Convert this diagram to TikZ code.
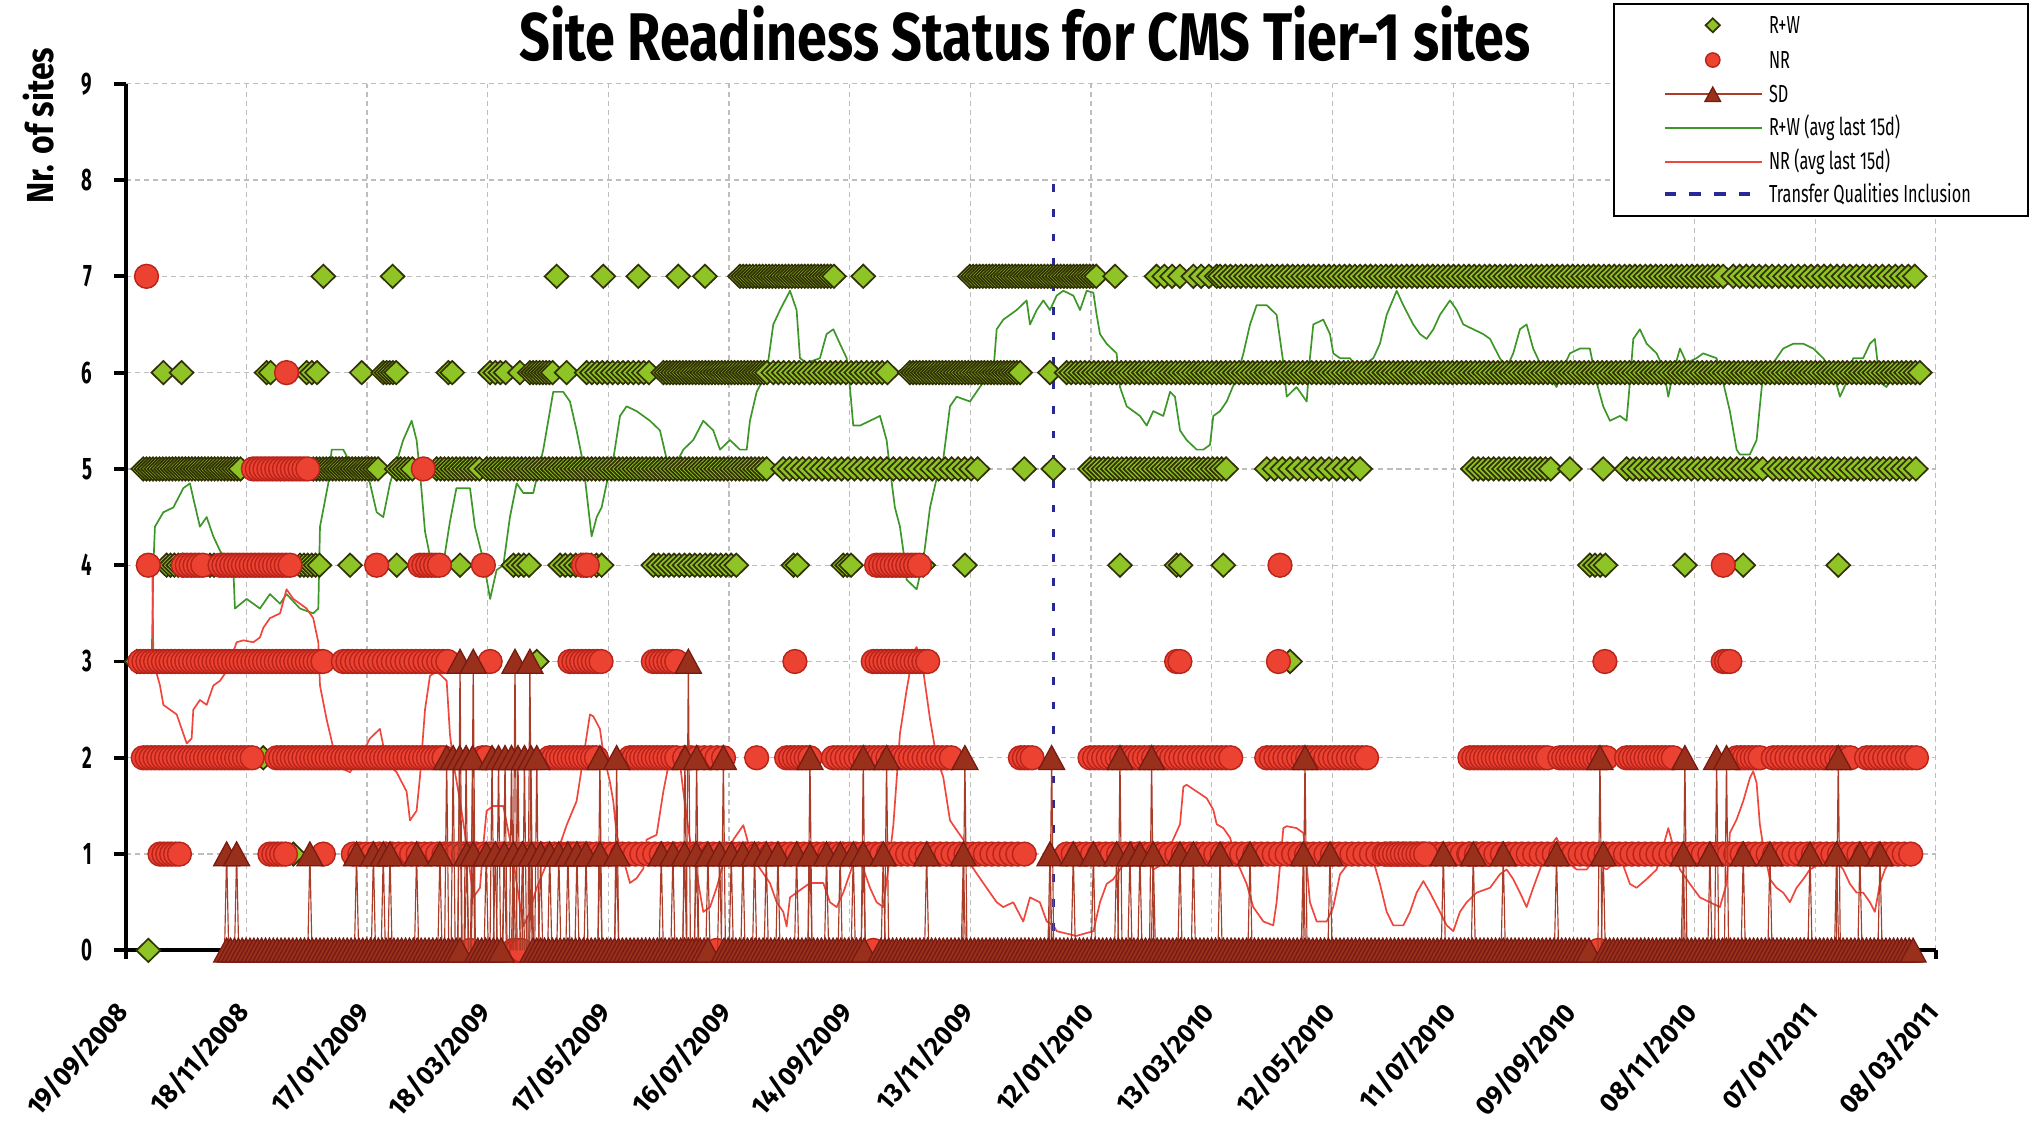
\documentclass[tikz,border=0pt]{standalone}
\usepackage{fontspec}
\setmainfont{Fira Sans}
\newfontfamily\titlefont[FakeStretch=0.8]{Fira Sans}
\newfontfamily\axisfont[FakeStretch=0.85]{Fira Sans}
\newfontfamily\tickfont[FakeStretch=0.6]{Fira Sans}
\newfontfamily\datefont[FakeStretch=0.97]{Fira Sans}
\newfontfamily\legfont[FakeStretch=0.66]{Fira Sans}

\definecolor{rwgreen}{RGB}{142,196,38}
\definecolor{rwedge}{RGB}{50,48,5}
\definecolor{nrred}{RGB}{236,66,50}
\definecolor{nredge}{RGB}{185,35,25}
\definecolor{sdfill}{RGB}{153,48,28}
\definecolor{sdedge}{RGB}{118,26,18}
\definecolor{sdstem}{RGB}{170,60,40}
\definecolor{avggreen}{RGB}{60,150,40}
\definecolor{avgred}{RGB}{240,70,60}
\definecolor{tqblue}{RGB}{40,40,150}
\definecolor{gridgray}{RGB}{190,190,190}

\tikzset{
  gridline/.style={draw=gridgray, line width=0.5pt, dash pattern=on 2pt off 1.5pt},
  axisline/.style={draw=black, line width=1.5pt},
  rwmark/.style={fill=rwgreen, draw=rwedge, line width=0.65pt, line join=miter},
  nrmark/.style={fill=nrred, draw=nredge, line width=0.55pt},
  sdmark/.style={fill=sdfill, draw=sdedge, line width=0.5pt},
  sdline/.style={draw=sdstem, line width=0.45pt},
  rwavg/.style={draw=avggreen, line width=0.65pt, line join=round},
  nravg/.style={draw=avgred, line width=0.65pt, line join=round},
  tqline/.style={draw=tqblue, line width=1pt, dash pattern=on 3pt off 6.5pt},
  ticklabel/.style={font=\tickfont\bfseries\fontsize{12}{12}\selectfont, inner sep=0pt, anchor=east},
  datelabel/.style={font=\datefont\bfseries\fontsize{10.3}{10.3}\selectfont, inner sep=0pt, rotate=49, anchor=north east},
  legtext/.style={font=\legfont\fontsize{9.5}{9.5}\selectfont, inner sep=0pt, anchor=west},
  rwpt/.pic={\path[rwmark] (-4.6pt,0pt) -- (0pt,4.5pt) -- (4.6pt,0pt) -- (0pt,-4.5pt) -- cycle;},
  nrpt/.pic={\path[nrmark] (0pt,0pt) circle (4.6pt);},
  sdpt/.pic={\path[sdmark] (-5pt,-4.5pt) -- (0pt,4.7pt) -- (5pt,-4.5pt) -- cycle;}
}

% one run of markers on a row: pic, row, from, to, step
\newcommand{\markrun}[5]{%
  \pgfmathtruncatemacro{\nmk}{(#4-#3)/#5}%
  \foreach \k in {0,...,\nmk}{%
    \pgfmathsetmacro{\xr}{#3+\k*#5}%
    \pic at (\xr,#2) {#1};%
  }%
}

\begin{document}
\begin{tikzpicture}[x=0.5pt, y=-0.5pt]
\fill[white] (0,0) rectangle (1568,874);
\useasboundingbox (0,0) rectangle (1568,874);

% title
\node[font=\titlefont\bfseries\fontsize{26}{26}\selectfont] (title) at (790.5,26) {Site Readiness Status for CMS Tier-1 sites};
\node[font=\axisfont\bfseries\fontsize{14.5}{14.5}\selectfont, rotate=90] (ytitle) at (30,97) {Nr. of sites};

\begin{scope}[shift={(0,733)}, y=37.135pt]
  % grid
  \foreach \i in {1,...,15} \draw[gridline] ({97+\i*93.07},0) -- ({97+\i*93.07},9);
  \foreach \v in {1,...,9} \draw[gridline] (97,\v) -- (1493.05,\v);
  % axes
  \draw[axisline] (97,9) -- (97,0) -- (1493.05,0);
  \foreach \v in {0,...,9} \draw[axisline] (97,\v) -- +(-4.6pt,0pt);
  \foreach \i in {0,...,15} \draw[axisline] ({97+\i*93.07},0) -- +(0pt,-3.5pt);
  \foreach \v in {0,...,9} \node[ticklabel] (ylab\v) at (71.5,\v) {\v};
  \foreach \d [count=\i from 0] in {19/09/2008,18/11/2008,17/01/2009,18/03/2009,17/05/2009,16/07/2009,14/09/2009,13/11/2009,12/01/2010,13/03/2010,12/05/2010,11/07/2010,09/09/2010,08/11/2010,07/01/2011,08/03/2011}
    \node[datelabel] (xlab\i) at ({97+\i*93.07-9.6},-0.5) {\d};

  % averages over the last 15 days
  \draw[rwavg] plot coordinates {(117,3.0) (118.3,4.0) (119.5,4.4) (126,4.55) (133.7,4.6) (141.4,4.8) (146.5,4.85) (149,4.7) (154.2,4.4) (159.4,4.5) (164.5,4.3) (169.7,4.15) (180,3.95) (181.2,3.55) (190.2,3.65) (200.5,3.55) (208.2,3.7) (216,3.6) (221,3.7) (231.4,3.55) (241.6,3.5) (245.5,3.55) (246.8,4.4) (253.2,4.85) (255.8,5.2) (264.8,5.2) (272.5,5.0) (282.8,5.0) (290.5,4.55) (295.6,4.5) (300.8,4.85) (311,5.3) (317.5,5.5) (321.3,5.3) (324,4.95) (327.8,4.35) (333,4.0) (340.6,3.9) (347,4.45) (352,4.8) (362.5,4.8) (366.3,4.4) (372.8,4.05) (378,3.65) (383,3.95) (388.2,4.0) (393.3,4.5) (398.5,4.85) (403.6,4.75) (411.3,4.75) (419,5.2) (426.7,5.8) (434.4,5.8) (439.6,5.7) (444.7,5.4) (449.9,5.05) (453.7,4.6) (456.3,4.3) (460.2,4.5) (464,4.6) (467.9,4.85) (473,5.1) (478.2,5.55) (483.3,5.65) (491,5.6) (501.3,5.5) (509,5.4) (514.2,5.1) (519.3,5.0) (527,5.2) (534.7,5.3) (542.4,5.5) (550.1,5.4) (555.3,5.2) (563,5.3) (570.7,5.2) (575.9,5.2) (578.4,5.5) (583.6,5.8) (591.3,6.0) (596.4,6.5) (601.6,6.65) (609.3,6.85) (614.4,6.65) (617,6.15) (622.1,6.1) (632.4,6.15) (637.5,6.4) (642.7,6.45) (647.8,6.3) (653,6.15) (655.5,5.85) (658.1,5.45) (663.3,5.45) (671,5.5) (678.7,5.55) (683.8,5.3) (686.4,5.0) (690.2,4.6) (694.1,4.4) (696.7,4.15) (699.2,3.85) (707,3.75) (712.1,4.05) (717.3,4.6) (722.4,4.9) (727.5,5.1) (732.7,5.65) (737.8,5.75) (748.1,5.7) (753.2,5.8) (758.4,5.9) (766.1,6.0) (768.7,6.45) (773.8,6.55) (784.1,6.65) (791.8,6.75) (794.4,6.5) (799.6,6.65) (804.7,6.75) (809.8,6.65) (815,6.8) (820.1,6.85) (827.8,6.8) (833,6.65) (838.1,6.85) (843.3,6.83) (845.8,6.6) (848.4,6.4) (853.5,6.3) (861.2,6.2) (863.8,5.85) (869,5.65) (879.2,5.55) (884.4,5.45) (889.5,5.6) (897.2,5.55) (902.4,5.8) (906.2,5.75) (910.1,5.4) (915.2,5.3) (923,5.2) (928.1,5.2) (933.2,5.25) (935.8,5.55) (941,5.6) (946.1,5.7) (953.8,5.95) (959,6.2) (964.1,6.5) (969.2,6.7) (977,6.7) (984.6,6.6) (987.2,6.35) (989.8,6.1) (992.4,5.75) (1000,5.85) (1007.8,5.7) (1010.3,6.15) (1012.9,6.5) (1020.6,6.55) (1025.8,6.4) (1028.3,6.2) (1033.5,6.15) (1041.2,6.15) (1046.3,6.05) (1054,6.1) (1059.2,6.15) (1064.3,6.3) (1069.5,6.6) (1077.2,6.85) (1082.3,6.7) (1090,6.5) (1095.2,6.4) (1100.3,6.35) (1105.5,6.45) (1110.6,6.6) (1118.3,6.75) (1123.5,6.65) (1128.6,6.5) (1136.3,6.45) (1144,6.4) (1149.2,6.35) (1156.8,6.15) (1162,6.05) (1167.1,6.2) (1172.3,6.45) (1177.4,6.5) (1182.5,6.25) (1187.7,6.1) (1192.8,6.0) (1200.5,5.85) (1205.7,6.05) (1210.8,6.2) (1218.5,6.25) (1226.2,6.25) (1231.4,5.9) (1236.5,5.65) (1241.7,5.5) (1249.4,5.55) (1254.5,5.5) (1257.1,5.9) (1259.7,6.35) (1264.8,6.45) (1270,6.3) (1277.7,6.2) (1282.8,6.05) (1286.7,5.75) (1290.5,6.0) (1295.7,6.25) (1300.8,6.1) (1308.5,6.15) (1313.6,6.2) (1323.9,6.15) (1329,5.9) (1334.2,5.6) (1339.4,5.2) (1341.9,5.15) (1349.6,5.15) (1354.8,5.3) (1357.3,5.65) (1359.9,6.0) (1365.1,6.05) (1375.3,6.25) (1383.1,6.3) (1390.8,6.3) (1398.5,6.25) (1406.2,6.15) (1414,6.0) (1419.1,5.75) (1424.2,5.9) (1429.3,6.15) (1437,6.15) (1442.2,6.3) (1446,6.35) (1449.9,5.9) (1455,5.85) (1460.2,6.0) (1467.9,6.05) (1475.6,6.05)};
  \draw[nravg] plot coordinates {(117.5,3.95) (118.3,3.0) (123.4,2.75) (126,2.55) (131.1,2.5) (136.3,2.45) (141.4,2.25) (144,2.15) (147.8,2.2) (149.1,2.5) (154.2,2.6) (159.4,2.55) (164.5,2.75) (169.7,2.8) (174.8,2.9) (182.5,3.2) (187.7,3.22) (195.4,3.2) (200.5,3.25) (203.1,3.35) (208.2,3.45) (216,3.5) (221,3.75) (226.2,3.65) (231.4,3.6) (236.5,3.55) (241.6,3.45) (245.5,3.2) (246.8,2.75) (251.9,2.4) (257.1,2.1) (262.2,1.9) (269.9,1.85) (277.6,2.0) (285.3,2.2) (293,2.3) (298.2,1.95) (305.9,1.85) (313.6,1.65) (316.2,1.35) (321.3,1.45) (323.9,1.8) (327.8,2.5) (331.6,2.85) (336.8,2.9) (344.5,2.8) (347,2.25) (349.6,1.95) (354.8,1.55) (359.9,1.1) (365,0.55) (370.2,0.65) (372.8,1.1) (375.3,1.45) (380.5,1.5) (388.2,1.5) (393.3,1.15) (398.5,0.7) (403.6,0.25) (408.7,0.4) (413.9,0.65) (421.6,0.9) (431.9,1.1) (437,1.3) (444.7,1.55) (449.9,2.0) (455,2.45) (457.6,2.43) (462.7,2.3) (465.3,2.05) (470.4,1.75) (473,1.55) (475.6,1.2) (480.7,0.95) (485.9,0.7) (491,0.75) (496.2,0.85) (498.7,1.15) (506.4,1.2) (511.6,1.65) (516.7,2.0) (519.3,2.1) (524.4,1.95) (527,1.65) (532.1,1.15) (537.3,0.8) (542.4,0.4) (547.6,0.45) (552.7,0.65) (557.9,0.9) (560.4,1.0) (565.6,1.15) (570.7,1.25) (573.3,1.3) (578.4,1.05) (583.6,0.9) (588.7,0.8) (593.8,0.7) (599,0.5) (604.1,0.4) (606.7,0.25) (609.3,0.55) (614.4,0.6) (619.5,0.65) (624.7,0.7) (635,0.7) (640.1,0.5) (645.3,0.45) (650.4,0.6) (655.5,0.8) (660.7,1.0) (665.8,0.85) (671,0.65) (676.1,0.5) (681.2,0.45) (685.1,0.85) (689,1.3) (694.1,2.25) (699.2,2.7) (704.4,3.1) (707,3.15) (712.1,2.9) (717.3,2.4) (722.4,2.0) (727.5,1.8) (732.7,1.35) (737.8,1.25) (743,1.15) (748.1,0.9) (753.2,0.8) (760.9,0.65) (768.7,0.5) (773.8,0.45) (781.5,0.5) (789.2,0.3) (794.4,0.55) (802,0.5) (807.3,0.3) (812.4,0.26) (815,0.2) (830,0.15) (843.3,0.2) (848.4,0.5) (853.5,0.69) (858.7,0.74) (863.8,0.84) (871.5,0.98) (876.7,1.08) (884.4,0.98) (889.5,0.84) (894.7,0.88) (902.4,1.08) (910.1,1.31) (912.7,1.7) (915.2,1.72) (923,1.65) (930.7,1.58) (935.8,1.46) (938.4,1.31) (943.5,1.27) (948.7,1.17) (953.8,0.93) (961.5,0.69) (966.6,0.45) (974.4,0.3) (982,0.26) (984.6,0.5) (987.2,0.88) (989.8,1.27) (992.4,1.29) (1000,1.27) (1005.2,1.22) (1007.8,0.88) (1010.3,0.5) (1015.5,0.3) (1023.2,0.3) (1028.3,0.45) (1033.5,0.79) (1038.6,0.88) (1043.8,0.93) (1051.5,0.98) (1059.2,0.93) (1064.3,0.69) (1069.5,0.4) (1074.6,0.26) (1082.3,0.26) (1087.5,0.4) (1092.6,0.6) (1097.8,0.72) (1102.9,0.6) (1110.6,0.4) (1115.8,0.26) (1120.9,0.2) (1126,0.4) (1131.2,0.5) (1138.9,0.6) (1149.2,0.65) (1156.8,0.79) (1162,0.84) (1167.1,0.74) (1172.3,0.6) (1177.4,0.45) (1182.5,0.65) (1187.7,0.84) (1192.8,1.03) (1200.5,1.17) (1208.2,0.93) (1216,0.84) (1223.7,0.84) (1228.8,0.93) (1234,0.88) (1239.1,0.84) (1246.8,0.93) (1252,0.88) (1257.1,0.69) (1262.2,0.65) (1270,0.74) (1277.7,0.84) (1282.8,1.08) (1286.7,1.27) (1290.5,1.08) (1295.7,0.84) (1303.4,0.69) (1311.1,0.55) (1318.8,0.5) (1326.5,0.45) (1331.6,0.69) (1334.2,1.22) (1339.4,1.36) (1344.5,1.55) (1349.6,1.79) (1352.2,1.86) (1354.8,1.74) (1357.3,1.31) (1359.9,1.08) (1365.1,0.74) (1370.2,0.65) (1375.3,0.6) (1380.5,0.5) (1385.6,0.65) (1390.8,0.74) (1395.9,0.84) (1401.1,0.88) (1406.2,0.98) (1411.3,0.98) (1416.5,0.93) (1421.6,0.84) (1426.8,0.69) (1431.9,0.6) (1437,0.6) (1442.2,0.5) (1446,0.4) (1449.9,0.69) (1453.8,0.84) (1457.6,0.93) (1462.8,0.98)};

  % transfer qualities inclusion
  \draw[tqline] (812.3,0.2) -- (812.3,8);

  % R+W
  \foreach \rw/\ra/\rb/\st in {7/249.4/249.4/1, 7/302.8/302.8/1, 7/429.3/429.3/1, 7/465.3/465.3/1, 7/492.3/492.3/1, 7/523.1/523.1/1, 7/543.7/543.7/1, 7/570.7/645.3/2.5, 7/665.8/665.8/1, 7/748/845.8/2.5, 7/860/860/1, 7/892/915.2/6, 7/920.4/938.4/6, 7/941/1329/4, 7/1336.8/1478.2/5,
      6/126/126/1, 6/140/140/1, 6/205.7/209.5/3, 6/236.5/246.8/4, 6/279/279/1, 6/295.6/306/2.5, 6/345.8/349.6/3, 6/378/393.3/4, 6/401/401/1, 6/408.7/426.7/2.5, 6/437/437/1, 6/452.5/503.9/4, 6/511.6/593.8/2.5, 6/596.4/686.4/4, 6/701.8/789.2/2.5, 6/809.8/809.8/1, 6/822.7/1480.7/3.5,
      5/110.5/187.7/2.5, 5/241.6/293/2.5, 5/306/318.8/3, 5/336.8/370/3, 5/375.3/593.8/3, 5/604/758.4/5, 5/790/790/1, 5/812.4/812.4/1, 5/840.7/948.7/3.5, 5/977/1054/6, 5/1136/1198/4, 5/1210.8/1210.8/1, 5/1236.5/1236.5/1, 5/1254.5/1362.5/5, 5/1367.6/1480.7/5,
      4/128.5/141.4/3, 4/162/167/3, 4/231.4/246.8/3, 4/270/270/1, 4/306/306/1, 4/354.8/354.8/1, 4/396/408.7/4, 4/432/465/4, 4/503.9/568.1/4, 4/612/616/3, 4/650.4/658/3, 4/712/712/1, 4/744.2/744.2/1, 4/863.8/863.8/1, 4/907.5/912.7/3, 4/943.5/943.5/1, 4/1226.2/1241.7/4, 4/1299.5/1299.5/1, 4/1344.5/1344.5/1, 4/1417.8/1417.8/1,
      3/105.4/105.4/1, 3/414/414/1, 3/995/995/1, 2/203/205.7/3, 1/226.2/226.2/1, 0/114.4/114.4/1}
    {\markrun{rwpt}{\rw}{\ra}{\rb}{\st}}

  % NR
  \foreach \rw/\ra/\rb/\st in {7/113/113/1, 6/221/221/1, 5/195.4/239/3, 5/326.5/326.5/1,
      4/114.4/114.4/1, 4/141.4/156.8/3, 4/169.7/226/3, 4/290.5/290.5/1, 4/323.9/339.3/3, 4/372.8/372.8/1, 4/450/455/3, 4/676.1/709.5/3, 4/987.2/987.2/1, 4/1329.1/1329.1/1,
      3/108/249.4/3, 3/264.8/347/3.5, 3/378/378/1, 3/439.6/465.3/3, 3/503.9/524.4/3, 3/613.1/613.1/1, 3/673.5/716/3, 3/907.5/910/2.5, 3/986/986/1, 3/1237.8/1237.8/1, 3/1329/1334.2/2.6,
      2/110.5/195.4/3, 2/213.4/344.5/3, 2/372/376/3, 2/424/460/3, 2/485.9/521.9/3, 2/528/558/5, 2/583.6/583.6/1, 2/606.7/624.7/3, 2/642.7/735/3.5, 2/787/797/3, 2/840.7/951.2/3.5, 2/977/1054/3.5, 2/1133.7/1195.4/3, 2/1203/1241.7/3, 2/1254.5/1293/3, 2/1339.4/1360/3, 2/1367.6/1429.3/3.5, 2/1439.6/1480.7/3.5,
      1/123.4/138.8/3, 1/208.2/221/3, 1/249.4/249.4/1, 1/272.5/455/5, 1/440/790/5, 1/822.7/1149/5, 1/1069.5/1100/3, 1/1133.7/1478/5,
      0/362.5/362.5/1, 0/396/403.6/3, 0/552.7/552.7/1, 0/673.5/673.5/1, 0/1232.7/1232.7/1}
    {\markrun{nrpt}{\rw}{\ra}{\rb}{\st}}

  % SD
  \def\sdpts{3/354.8, 3/365, 3/397.2, 3/408.7, 3/530.9,
    2/344.5, 2/349.5, 2/354.5, 2/359.5, 2/364.5, 2/379.5, 2/384.5, 2/389.5, 2/394.5, 2/399.5, 2/404.5, 2/409.5, 2/414,
    2/462.7, 2/475.6, 2/528.3, 2/537.3, 2/557.9, 2/624.7, 2/665.8, 2/683.8, 2/744.2, 2/811.1, 2/863.8, 2/888.2, 2/1006.5, 2/1234, 2/1299.5, 2/1324, 2/1331.6, 2/1417.8,
    1/174.8, 1/182.5, 1/239, 1/275, 1/288, 1/295.6, 1/300.8, 1/321.3, 1/339.3, 1/360, 1/365, 1/375, 1/382, 1/389, 1/396, 1/403, 1/410, 1/417, 1/424, 1/431, 1/438, 1/445, 1/452,
    1/462.7, 1/475.6, 1/510, 1/519, 1/528, 1/537, 1/546, 1/555, 1/564, 1/573, 1/582, 1/591, 1/600, 1/614.4, 1/624.7, 1/637.5, 1/648, 1/658.1, 1/665.8, 1/681.2, 1/714.7, 1/743,
    1/809.8, 1/827.8, 1/843.3, 1/861.2, 1/871.5, 1/879.2, 1/889.5, 1/910.1, 1/920.4, 1/941, 1/964.1, 1/1005.2, 1/1025.8, 1/1113.2, 1/1136.3, 1/1159.4, 1/1200.5, 1/1236.5, 1/1298.2, 1/1318.8, 1/1344.5, 1/1365.1, 1/1396, 1/1416.5, 1/1434.5, 1/1450}
  \foreach \rw/\x in \sdpts \draw[sdline] (\x-1.6,0) -- (\x,\rw) -- (\x+1.6,0);
  \foreach \ra/\rb in {174.8/356.5, 368.5/389, 411/546.5, 558.5/667.5, 679.5/1226.5, 1238.5/1478}
    {\markrun{sdpt}{0}{\ra}{\rb}{3}}
  \foreach \rw/\x in \sdpts \pic at (\x,\rw) {sdpt};
\end{scope}

% legend
\draw[line width=0.6pt, fill=white] (1245,3) rectangle (1564,166.5);
\pic[scale=0.6] at (1321,19.5) {rwpt};
\node[legtext] (legrw) at (1364,19.5) {R+W};
\pic[scale=0.6] at (1321,46.3) {nrpt};
\node[legtext] (legnr) at (1364,46.3) {NR};
\draw[sdline, line width=0.8pt] (1284,72.8) -- (1359,72.8);
\pic[scale=0.6] at (1321,72.8) {sdpt};
\node[legtext] (legsd) at (1364,72.8) {SD};
\draw[rwavg] (1284,98.5) -- (1359,98.5);
\node[legtext] (legrwavg) at (1364,98.5) {R+W (avg last 15d)};
\draw[nravg] (1284,124.7) -- (1359,124.7);
\node[legtext] (legnravg) at (1364,124.7) {NR (avg last 15d)};
\draw[tqline, line width=1.5pt, dash pattern=on 4.5pt off 5pt] (1284,149.6) -- (1359,149.6);
\node[legtext] (legtq) at (1364,149.6) {Transfer Qualities Inclusion};
\end{tikzpicture}
\end{document}
